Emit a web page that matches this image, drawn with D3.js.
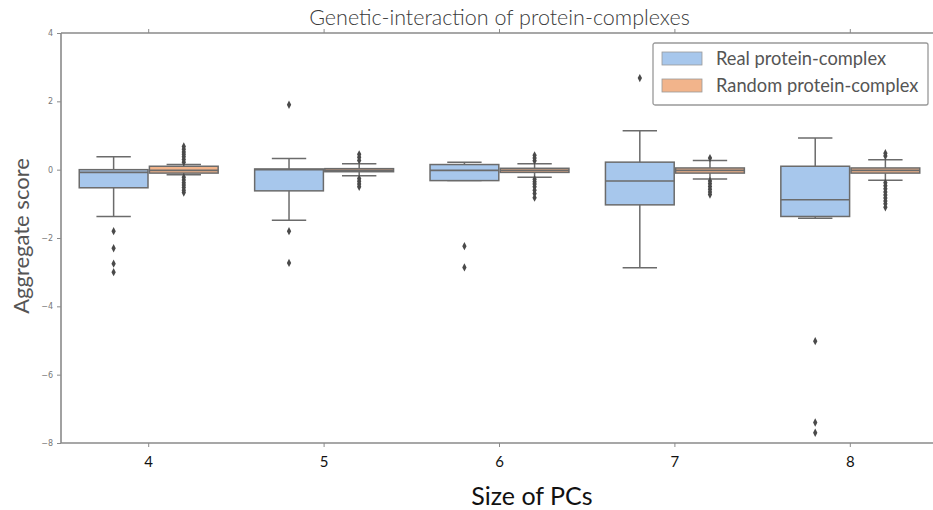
<!DOCTYPE html>
<html>
<head>
<meta charset="utf-8">
<script src="https://cdn.jsdelivr.net/npm/d3@7"></script>
<style>
  body { margin: 0; background: #fff; }
  svg { display: block; }
</style>
</head>
<body>
<svg id="chart" width="933" height="510"></svg>
<script>
const categories = ["4", "5", "6", "7", "8"];
const hues = ["Real protein-complex", "Random protein-complex"];
const yTicks = [4, 2, 0, -2, -4, -6, -8];

// box stats per category: [whiskerLo, q1, median, q3, whiskerHi]
const realStats = [
  [-1.37, -0.53, -0.08, 0.0, 0.38],
  [-1.48, -0.62, 0.0, 0.02, 0.33],
  [-0.32, -0.32, -0.02, 0.15, 0.22],
  [-2.87, -1.03, -0.33, 0.22, 1.14],
  [-1.42, -1.37, -0.88, 0.1, 0.93]
];
const realOutliers = [
  [-1.8, -2.3, -2.75, -3.0],
  [1.9, -1.8, -2.73],
  [-2.24, -2.86],
  [2.68],
  [-5.02, -7.4, -7.7]
];
const randomStats = [
  [-0.15, -0.1, -0.02, 0.1, 0.15],
  [-0.18, -0.06, -0.02, 0.03, 0.17],
  [-0.22, -0.08, -0.02, 0.04, 0.17],
  [-0.27, -0.1, -0.02, 0.05, 0.27],
  [-0.31, -0.1, -0.02, 0.05, 0.29]
];
const randomOutliers = [
  [0.68, 0.6, 0.52, 0.45, 0.38, 0.3, 0.22, -0.22, -0.3, -0.38, -0.45, -0.52, -0.6, -0.67],
  [0.45, 0.36, 0.27, -0.26, -0.34, -0.42, -0.5],
  [0.42, 0.34, 0.26, -0.28, -0.35, -0.42, -0.5, -0.6, -0.7, -0.82],
  [0.34, -0.33, -0.41, -0.49, -0.57, -0.65, -0.73],
  [0.48, 0.4, -0.38, -0.47, -0.56, -0.65, -0.74, -0.83, -0.92, -1.0, -1.1]
];

const colors = ["#a7c7ec", "#f2b48b"];
const edge = "#6b6b6b";
const axisColor = "#8a8a8a";

const width = 933, height = 510;
const margin = { top: 33, right: -5, bottom: 67, left: 61 };

const svg = d3.select("#chart");

const x = d3.scaleBand()
  .domain(categories)
  .range([margin.left, width - margin.right]);

const hueX = d3.scaleBand()
  .domain(hues)
  .range([x.bandwidth() * 0.1, x.bandwidth() * 0.9]);

const y = d3.scaleLinear()
  .domain([-8, 4])
  .range([height - margin.bottom, margin.top]);

const boxW = hueX.bandwidth() * 0.98;

// frame
const frame = svg.append("g");
frame.append("line")
  .attr("x1", margin.left).attr("x2", width - margin.right)
  .attr("y1", y(4)).attr("y2", y(4));
frame.append("line")
  .attr("x1", margin.left).attr("x2", width - margin.right)
  .attr("y1", y(-8)).attr("y2", y(-8));
frame.append("line")
  .attr("x1", margin.left).attr("x2", margin.left)
  .attr("y1", y(4)).attr("y2", y(-8));
frame.selectAll("line")
  .attr("stroke", axisColor)
  .attr("stroke-width", 1.6);

// y axis
const yAxis = svg.append("g")
  .attr("transform", `translate(${margin.left},0)`)
  .call(d3.axisLeft(y).tickValues(yTicks).tickSize(4).tickPadding(4)
    .tickFormat(d => d < 0 ? "\u2212" + Math.abs(d) : d));
yAxis.select(".domain").remove();
yAxis.selectAll(".tick line").attr("stroke", axisColor);
yAxis.selectAll(".tick text")
  .attr("fill", "#777")
  .style("font-family", "DejaVu Sans, sans-serif")
  .style("font-size", "8px");

// x axis bottom
const xAxis = svg.append("g")
  .attr("transform", `translate(0,${y(-8)})`)
  .call(d3.axisBottom(x).tickSize(4).tickPadding(9));
xAxis.select(".domain").remove();
xAxis.selectAll(".tick line").attr("stroke", axisColor);
xAxis.selectAll(".tick text")
  .attr("fill", "#111")
  .style("font-family", "Lato, sans-serif")
  .style("font-size", "15px");

// top ticks
const xTop = svg.append("g")
  .attr("transform", `translate(0,${y(4)})`)
  .call(d3.axisTop(x).tickSize(4).tickFormat(""));
xTop.select(".domain").remove();
xTop.selectAll(".tick line").attr("stroke", axisColor);

// boxes
function drawBoxes(stats, outliers, hue, color) {
  const g = svg.append("g");
  stats.forEach((s, i) => {
    const cx = x(categories[i]) + hueX(hue) + hueX.bandwidth() / 2;
    const [lo, q1, med, q3, hi] = s;
    const bg = g.append("g");
    // whiskers
    bg.append("line")
      .attr("x1", cx).attr("x2", cx)
      .attr("y1", y(q3)).attr("y2", y(hi));
    bg.append("line")
      .attr("x1", cx).attr("x2", cx)
      .attr("y1", y(q1)).attr("y2", y(lo));
    bg.append("line")
      .attr("x1", cx - boxW / 4).attr("x2", cx + boxW / 4)
      .attr("y1", y(hi)).attr("y2", y(hi));
    bg.append("line")
      .attr("x1", cx - boxW / 4).attr("x2", cx + boxW / 4)
      .attr("y1", y(lo)).attr("y2", y(lo));
    bg.selectAll("line").attr("stroke", edge).attr("stroke-width", 1.5);
    // box
    bg.append("rect")
      .attr("x", cx - boxW / 2)
      .attr("y", y(q3))
      .attr("width", boxW)
      .attr("height", Math.max(y(q1) - y(q3), 0.5))
      .attr("fill", color)
      .attr("stroke", edge)
      .attr("stroke-width", 1.5);
    bg.append("line")
      .attr("x1", cx - boxW / 2).attr("x2", cx + boxW / 2)
      .attr("y1", y(med)).attr("y2", y(med))
      .attr("stroke", edge).attr("stroke-width", 1.6);
    // fliers
    bg.selectAll("path.flier")
      .data(outliers[i])
      .join("path")
      .attr("class", "flier")
      .attr("d", d3.symbol(d3.symbolDiamond, 20))
      .attr("transform", d => `translate(${cx},${y(d)}) scale(0.9,1)`)
      .attr("fill", "#4a4a4a");
  });
}
drawBoxes(realStats, realOutliers, hues[0], colors[0]);
drawBoxes(randomStats, randomOutliers, hues[1], colors[1]);

// title
svg.append("text")
  .attr("x", (margin.left + width - margin.right) / 2)
  .attr("y", 25)
  .attr("text-anchor", "middle")
  .attr("fill", "#3a3a3a")
  .style("font-family", "Lato, sans-serif")
  .style("font-weight", 300)
  .style("font-size", "21.5px")
  .text("Genetic-interaction of protein-complexes");

// axis labels
svg.append("text")
  .attr("transform", `translate(29,236) rotate(-90)`)
  .attr("text-anchor", "middle")
  .attr("fill", "#555")
  .style("font-family", "Lato, sans-serif")
  .style("font-size", "22px")
  .text("Aggregate score");

svg.append("text")
  .attr("x", 532)
  .attr("y", 505)
  .attr("text-anchor", "middle")
  .attr("fill", "#111")
  .style("font-family", "Lato, sans-serif")
  .style("font-size", "25px")
  .text("Size of PCs");

// legend
const legend = svg.append("g").attr("transform", "translate(653,43)");
legend.append("rect")
  .attr("width", 275).attr("height", 62)
  .attr("rx", 2)
  .attr("fill", "#fff")
  .attr("stroke", "#999")
  .attr("stroke-width", 1.3);
const items = legend.selectAll("g.item")
  .data(hues)
  .join("g")
  .attr("class", "item")
  .attr("transform", (d, i) => `translate(9,${9 + i * 27})`);
items.append("rect")
  .attr("width", 40).attr("height", 13)
  .attr("fill", (d, i) => colors[i])
  .attr("stroke", "#999")
  .attr("stroke-width", 0.8);
items.append("text")
  .attr("x", 54)
  .attr("y", 13)
  .attr("fill", "#555")
  .style("font-family", "Lato, sans-serif")
  .style("font-size", "18.3px")
  .text(d => d);
</script>
</body>
</html>
